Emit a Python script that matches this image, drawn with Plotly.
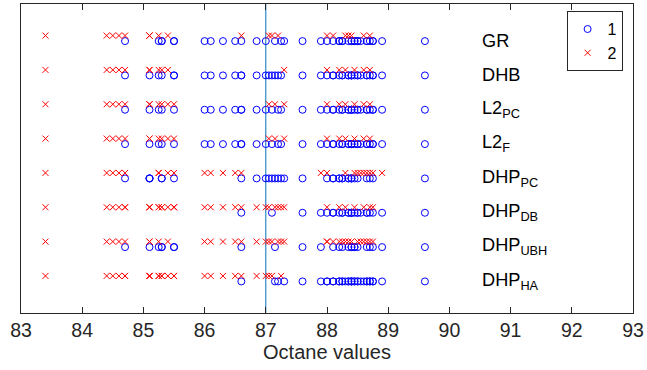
import plotly.graph_objects as go
from collections import Counter

# Octane values of the 60 samples
octane = [85.30, 85.25, 88.45, 83.40, 87.90, 85.50, 88.90, 88.30, 88.70, 88.45,
          88.75, 88.25, 87.30, 88.00, 88.70, 85.50, 88.65, 88.75, 85.40, 88.60,
          87.00, 87.15, 87.05, 87.25, 86.85, 88.65, 86.60, 86.00, 86.10, 86.50,
          86.30, 84.40, 84.70, 84.60, 84.50, 88.10, 85.25, 88.40, 88.20, 88.40,
          88.55, 88.35, 88.20, 85.30, 88.50, 88.25, 88.00, 88.50, 88.40, 88.10,
          87.60, 88.35, 85.10, 85.10, 84.70, 87.20, 86.60, 89.60, 87.10, 85.10]

# Methods (top to bottom) and the octane values assigned to cluster 2
method_labels = ["GR", "DHB", "L2<sub>PC</sub>", "L2<sub>F</sub>", "DHP<sub>PC</sub>",
                 "DHP<sub>DB</sub>", "DHP<sub>UBH</sub>", "DHP<sub>HA</sub>"]

gr_class2 = [83.4, 84.4, 84.5, 84.6, 84.7, 85.1, 85.1, 85.1, 85.25, 85.4, 86.6,
             87.05, 87.1, 87.2, 88.0, 88.1, 88.3, 88.35, 88.4, 88.6, 88.7]
dhb_class2 = [83.4, 84.4, 84.5, 84.6, 84.7, 85.1, 85.1, 85.25, 85.3, 85.4,
              87.3, 88.0, 88.2, 88.3, 88.45, 88.6, 88.7]
l2pc_class2 = [83.4, 84.4, 84.5, 84.6, 84.7, 85.1, 85.1, 85.25, 85.3, 85.4, 85.5,
               87.05, 87.15, 87.3, 88.0, 88.2, 88.3, 88.45, 88.6, 88.7]
l2f_class2 = [83.4, 84.4, 84.5, 84.6, 84.7, 85.1, 85.1, 85.25, 85.3, 85.4, 85.5,
              87.05, 87.15, 87.3, 88.0, 88.2, 88.3, 88.45, 88.6, 88.7]
dhppc_class2 = [83.4, 84.4, 84.5, 84.6, 84.7, 85.25, 85.25, 85.4, 85.5, 86.0, 86.1,
                86.3, 86.5, 86.6, 87.9, 88.0, 88.3, 88.45, 88.5, 88.55, 88.6,
                88.65, 88.7, 88.75, 88.9]
dhpdb_class2 = [83.4, 84.4, 84.5, 84.6, 84.7, 84.7, 85.1, 85.1, 85.1, 85.25, 85.25,
                85.3, 85.3, 85.4, 85.5, 85.5, 86.0, 86.1, 86.3, 86.5, 86.6, 86.85,
                87.0, 87.05, 87.15, 87.2, 87.25, 87.3, 88.0, 88.2, 88.3, 88.45,
                88.6, 88.7, 88.75]
dhpubh_class2 = [83.4, 84.4, 84.5, 84.6, 84.7, 85.1, 85.1, 85.25, 85.4, 86.0, 86.1,
                 86.3, 86.5, 86.6, 86.85, 87.0, 87.05, 87.1, 87.2, 87.25, 87.3,
                 88.0, 88.0, 88.1, 88.2, 88.25, 88.3, 88.35, 88.4, 88.5, 88.55,
                 88.6, 88.65, 88.7, 88.75]
dhpha_class2 = [83.4, 84.4, 84.5, 84.6, 84.7, 84.7, 85.1, 85.1, 85.1, 85.25, 85.25,
                85.3, 85.3, 85.4, 85.5, 85.5, 86.0, 86.1, 86.3, 86.5, 86.6, 86.85,
                87.0, 87.05, 87.1, 87.25]

threshold = 87
x_ticks = [83, 84, 85, 86, 87, 88, 89, 90, 91, 92, 93]

class2_lists = [gr_class2, dhb_class2, l2pc_class2, l2f_class2, dhppc_class2,
                dhpdb_class2, dhpubh_class2, dhpha_class2]

n_rows = len(method_labels)
x1, y1, x2, y2 = [], [], [], []
for k, c2 in enumerate(class2_lists):
    row = n_rows - k
    rest = Counter(round(v, 2) for v in octane)
    rest.subtract(Counter(round(v, 2) for v in c2))
    for v, cnt in sorted(rest.items()):
        for _ in range(max(cnt, 0)):
            x1.append(v)
            y1.append(row - 0.08)
    for v in c2:
        x2.append(v)
        y2.append(row + 0.08)

FONT = "Liberation Sans, Arial, Helvetica, sans-serif"
AX = "#262626"

fig = go.Figure()
fig.add_trace(go.Scatter(x=x1, y=y1, mode="markers", name="1",
                         marker=dict(symbol="circle-open", size=7, color="#0000FF",
                                     line=dict(width=1, color="#0000FF"))))
fig.add_trace(go.Scatter(x=x2, y=y2, mode="markers", name="2",
                         marker=dict(symbol="x-thin-open", size=6, color="#FF0000",
                                     line=dict(width=1, color="#FF0000"))))

fig.add_shape(type="line", xref="x", yref="paper", x0=threshold, x1=threshold,
              y0=0, y1=1, line=dict(color="#0072BD", width=1), layer="below")

for k, lab in enumerate(method_labels):
    fig.add_annotation(x=90.5, y=n_rows - k - 0.07, text=lab, showarrow=False,
                       xanchor="left", yanchor="middle", xref="x", yref="y",
                       font=dict(family=FONT, size=18.2, color="#000000"))

fig.update_layout(
    width=647, height=370,
    margin=dict(l=21, r=10, t=3, b=57),
    paper_bgcolor="white", plot_bgcolor="white",
    font=dict(family=FONT, color=AX),
    showlegend=True,
    legend=dict(x=0.983, y=0.977, xanchor="right", yanchor="top",
                bordercolor=AX, borderwidth=1, bgcolor="white",
                font=dict(family=FONT, size=16, color="#000000"),
                itemwidth=30),
    xaxis=dict(range=[83, 93], tickmode="array", tickvals=x_ticks,
               ticktext=[str(t) for t in x_ticks],
               ticks="inside", ticklen=6, tickwidth=1, tickcolor=AX,
               showline=True, linecolor=AX, linewidth=1, mirror="ticks",
               showgrid=False, zeroline=False, ticklabeloverflow="allow",
               tickfont=dict(family=FONT, size=19.5, color=AX),
               title=dict(text="Octane values", font=dict(family=FONT, size=20, color=AX),
                          standoff=4)),
    yaxis=dict(range=[0, 9], showticklabels=False, ticks="",
               showline=True, linecolor=AX, linewidth=1, mirror=True,
               showgrid=False, zeroline=False),
)

fig.write_html("out.html")
